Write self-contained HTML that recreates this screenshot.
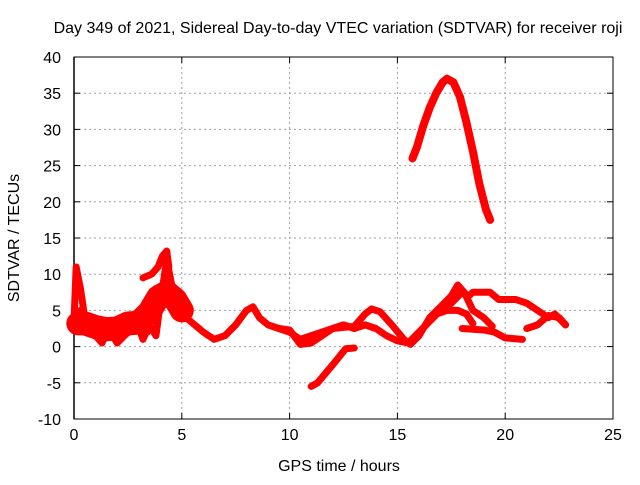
<!DOCTYPE html>
<html><head><meta charset="utf-8"><style>
body{margin:0;background:#fff}
text{font-family:"Liberation Sans",sans-serif;font-size:16px;fill:#000}
</style></head><body>
<svg width="640" height="480" xmlns="http://www.w3.org/2000/svg">
<g id="grid"></g>
<g id="axes"></g>
<g id="series"></g>
<text x="338" y="33" text-anchor="middle">Day 349 of 2021, Sidereal Day-to-day VTEC variation (SDTVAR) for receiver roji</text>
<text x="339" y="471" text-anchor="middle">GPS time / hours</text>
<text transform="translate(19,238) rotate(-90)" text-anchor="middle">SDTVAR / TECUs</text>
</svg>
<script>
const xTicks=[0,5,10,15,20,25];
const yTicks=[-10,-5,0,5,10,15,20,25,30,35,40];
const seriesMain=[[0,3.5],[0.1,11],[0.3,8],[0.5,4],[0.8,2],[1,3],[1.5,1.5],[2,2],[2.5,4],[3,3],[3.4,2],[3.6,5],[3.8,8],[4.2,8],[4.5,7],[4.8,5],[5.2,4],[5.6,3],[6,2],[6.5,1],[7,1.5],[7.5,3],[8,5],[8.3,5.5],[8.6,4],[9,3],[9.5,2.5],[10,2],[10.5,1],[11,1.5],[11.5,2],[12,2.5],[12.5,3],[13,2.5],[13.5,3],[14,2.5],[14.5,1.5],[15,0.8],[15.5,0.5],[16,2],[16.5,3.5],[17,5],[17.5,6],[18,7.5],[18.3,7],[18.5,7.5],[19,7.5],[19.3,7.5],[19.7,6.5],[20.5,6.5],[21,6],[21.5,5],[22,4],[22.3,4.5],[22.8,3]];
const seriesSecond=[[9.5,2.5],[10,2.3],[10.5,0.3],[11,0.5],[11.5,1.5],[12,2.5],[13,2.8],[13.5,4.5],[13.8,5.2],[14.2,4.8],[14.8,2.8],[15.3,1],[15.6,0.3],[16,1.5],[16.5,4],[17,5.5],[17.5,7],[17.8,8.5],[18.1,7.5],[18.5,5],[19,4],[19.4,2.8]];
const seriesBranch=[[16.8,4.5],[17.3,5],[17.8,5],[18.2,4.5],[18.5,3.2]];
const seriesLow=[[18,2.5],[19,2.3],[19.5,2],[20,1.2],[20.8,1]];
const seriesRight=[[21,2.5],[21.5,3],[22,4.3],[22.5,4],[22.8,3]];
const seriesNeg=[[11,-5.5],[11.3,-5],[12,-2.5],[12.6,-0.3],[13,-0.2]];
const seriesPeak=[[15.7,26],[15.9,27.5],[16.2,30.5],[16.5,33],[16.8,35],[17.1,36.5],[17.3,37],[17.6,36.5],[17.9,34.5],[18.2,31],[18.5,27],[18.8,22.5],[19.1,19],[19.3,17.5]];
const seriesNoise=[[0,3],[0.3,5],[0.6,3.5],[1,1.5],[1.3,0.5],[1.6,2.5],[2,0.5],[2.5,2],[2.8,4.5],[3.2,1],[3.5,3],[3.8,1.5],[4,6],[4.3,12],[4.5,9],[4.7,6],[5,5]];
const seriesBand=[[0.2,3.2],[0.5,3.2],[1,2.7],[1.5,2.4],[2,2.5],[2.5,3.2],[3,3.3],[3.5,4.8],[3.9,6.8],[4.3,7.5],[4.7,6.5],[5,5]];
const seriesSpike=[[3.2,9.5],[3.6,10],[3.9,11],[4.1,12.5],[4.3,13.2],[4.4,11]];
const X0=74,X1=613,Y0=419,Y1=57;
const sx=v=>X0+(v-0)/25*(X1-X0);
const sy=v=>Y0-(v+10)/50*(Y0-Y1);
const NS='http://www.w3.org/2000/svg';
const grid=document.getElementById('grid'),axes=document.getElementById('axes'),ser=document.getElementById('series');
function mk(t,a,p){const e=document.createElementNS(NS,t);for(const k in a)e.setAttribute(k,a[k]);p.appendChild(e);return e;}
xTicks.forEach(t=>{const x=sx(t);
 if(t>0&&t<25){const g=mk('line',{x1:x,x2:x,y1:Y0,y2:Y1,stroke:'#a0a0a0','stroke-dasharray':'2,3'},grid);
 
 }
 const l=mk('text',{x:x,y:Y0+21,'text-anchor':'middle'},axes);l.textContent=t;
 
 
 mk('line',{x1:x,x2:x,y1:Y0,y2:Y0-6,stroke:'#000'},axes);mk('line',{x1:x,x2:x,y1:Y1,y2:Y1+6,stroke:'#000'},axes);});
yTicks.forEach(t=>{const y=sy(t);
 if(t>-10&&t<40){const g=mk('line',{x1:X0,x2:X1,y1:y,y2:y,stroke:'#a0a0a0','stroke-dasharray':'2,3'},grid);
 
 }
 const l=mk('text',{x:X0-13,y:y+6,'text-anchor':'end'},axes);l.textContent=t;
 
 
 mk('line',{x1:X0,x2:X0+6,y1:y,y2:y,stroke:'#000'},axes);mk('line',{x1:X1,x2:X1-6,y1:y,y2:y,stroke:'#000'},axes);});
const fr=mk('rect',{x:X0,y:Y1,width:X1-X0,height:Y0-Y1,fill:'none',stroke:'#000'},axes);


mk('line',{x1:X0,x2:X0,y1:Y0,y2:Y1,stroke:'#000','stroke-width':1.5},axes);
[['band',seriesBand,24],['main',seriesMain,7],['second',seriesSecond,7],['branch',seriesBranch,7],['low',seriesLow,7],['right',seriesRight,7],['negative',seriesNeg,7],['peak',seriesPeak,8],['noise',seriesNoise,7],['spike',seriesSpike,7]].forEach(([n,d,w])=>{
 const p=mk('polyline',{points:d.map(q=>sx(q[0])+','+sy(q[1])).join(' '),fill:'none',stroke:'#ff0000','stroke-width':w,'stroke-linejoin':'round','stroke-linecap':'round'},ser);
 
 
});
</script>
</body></html>
